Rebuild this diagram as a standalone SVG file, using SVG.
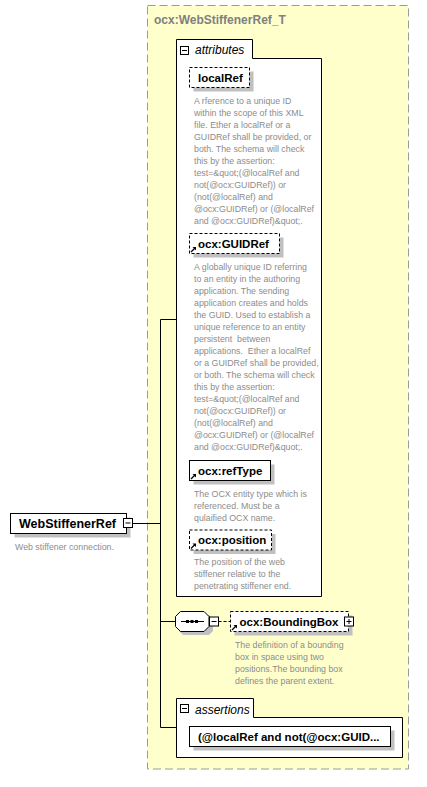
<svg xmlns="http://www.w3.org/2000/svg" width="427" height="787" viewBox="0 0 427 787">
<defs>
<style>
.lbl{font-family:"Liberation Sans",Arial,sans-serif;font-weight:bold;font-size:11.5px;fill:#000}
.desc{font-family:"Liberation Sans",Arial,sans-serif;font-size:8.8px;fill:#8c8c8c}
.ital{font-family:"Liberation Sans",Arial,sans-serif;font-style:italic;font-size:12px;fill:#000}
.shadow{fill:#c0c0c0}
.box{fill:#fff;stroke:#000;stroke-width:1}
.opt{fill:#fff;stroke:#000;stroke-width:1;stroke-dasharray:3,2}
.icon{fill:#fff;stroke:#000;stroke-width:1}
.conn{fill:none;stroke:#000;stroke-width:1}
</style>
<g id="refArrow">
<path d="M0.5,5.5 L4.5,1.5" stroke="#000" stroke-width="1.2" fill="none"/>
<path d="M2,0.5 L5.5,0.5 L5.5,4 Z" fill="#000"/>
</g>
</defs>

<g id="complexType">
<rect x="147.5" y="5.5" width="261" height="763.5" fill="#ffffcc" stroke="#9a9a9a" stroke-width="1" stroke-dasharray="8,4"/>
<text x="154" y="24" style="font-family:'Liberation Sans',Arial,sans-serif;font-weight:bold;font-size:12px;fill:#808080">ocx:WebStiffenerRef_T</text>
</g>

<g id="connectors">
<path class="conn" d="M132.5,523.5 H160.5"/>
<path class="conn" d="M160.5,319.5 V727.5"/>
<path class="conn" d="M160.5,319.5 H176"/>
<path class="conn" d="M160.5,621.5 H175"/>
<path class="conn" d="M160.5,727.5 H176"/>
<path class="conn" d="M218.5,621.5 H230" stroke-dasharray="3,2"/>
</g>

<g id="WebStiffenerRef">
<rect class="shadow" x="14.5" y="517.5" width="116" height="20"/>
<rect class="box" x="10.5" y="513.5" width="116" height="20"/>
<text x="19" y="528" class="lbl" style="font-size:12.5px">WebStiffenerRef</text>
<rect class="icon" x="123.5" y="518.5" width="9" height="9"/>
<path d="M125.5,523 H130.5" stroke="#000" stroke-width="1"/>
<text x="15" y="549.7" class="desc">Web stiffener connection.</text>
</g>

<g id="attributes">
<path d="M176.5,39.5 H252.5 V58.5 H321.5 V596.5 H176.5 Z" fill="#fff" stroke="#000" stroke-width="1"/>
<rect class="icon" x="180.5" y="46.5" width="8" height="8"/>
<path d="M182,50.5 H187" stroke="#000" stroke-width="1"/>
<text x="195" y="54" class="ital">attributes</text>
</g>

<g id="localRef">
<rect class="shadow" x="193.5" y="71.5" width="60" height="20"/>
<rect class="opt" x="189.5" y="67.5" width="60" height="20"/>
<text x="198" y="81.6" class="lbl">localRef</text>
<text class="desc"><tspan x="194" y="103.7">A rference to a unique ID</tspan><tspan x="194" dy="12">within the scope of this XML</tspan><tspan x="194" dy="12">file. Ether a localRef or a</tspan><tspan x="194" dy="12">GUIDRef shall be provided, or</tspan><tspan x="194" dy="12">both. The schema will check</tspan><tspan x="194" dy="12">this by the assertion:</tspan><tspan x="194" dy="12">test=&amp;quot;(@localRef and</tspan><tspan x="194" dy="12">not(@ocx:GUIDRef)) or</tspan><tspan x="194" dy="12">(not(@localRef) and</tspan><tspan x="194" dy="12">@ocx:GUIDRef) or (@localRef</tspan><tspan x="194" dy="12">and @ocx:GUIDRef)&amp;quot;.</tspan></text>
</g>

<g id="GUIDRef">
<rect class="shadow" x="193.5" y="237.5" width="90" height="20"/>
<rect class="opt" x="189.5" y="233.5" width="90" height="20"/>
<text x="198" y="247.6" class="lbl">ocx:GUIDRef</text>
<use href="#refArrow" x="190.5" y="246.5"/>
<text class="desc"><tspan x="194" y="269.7">A globally unique ID referring</tspan><tspan x="194" dy="12">to an entity in the authoring</tspan><tspan x="194" dy="12">application. The sending</tspan><tspan x="194" dy="12">application creates and holds</tspan><tspan x="194" dy="12">the GUID. Used to establish a</tspan><tspan x="194" dy="12">unique reference to an entity</tspan><tspan x="194" dy="12" xml:space="preserve">persistent  between</tspan><tspan x="194" dy="12" xml:space="preserve">applications.  Ether a localRef</tspan><tspan x="194" dy="12">or a GUIDRef shall be provided,</tspan><tspan x="194" dy="12">or both. The schema will check</tspan><tspan x="194" dy="12">this by the assertion:</tspan><tspan x="194" dy="12">test=&amp;quot;(@localRef and</tspan><tspan x="194" dy="12">not(@ocx:GUIDRef)) or</tspan><tspan x="194" dy="12">(not(@localRef) and</tspan><tspan x="194" dy="12">@ocx:GUIDRef) or (@localRef</tspan><tspan x="194" dy="12">and @ocx:GUIDRef)&amp;quot;.</tspan></text>
</g>

<g id="refType">
<rect class="shadow" x="193.5" y="464.5" width="81" height="20"/>
<rect class="box" x="189.5" y="460.5" width="81" height="20"/>
<text x="198" y="474.6" class="lbl">ocx:refType</text>
<use href="#refArrow" x="190.5" y="473.5"/>
<text class="desc"><tspan x="194" y="497">The OCX entity type which is</tspan><tspan x="194" dy="12">referenced. Must be a</tspan><tspan x="194" dy="12">qulaified OCX name.</tspan></text>
</g>

<g id="position">
<rect class="shadow" x="193.5" y="534" width="82" height="20"/>
<rect class="opt" x="189.5" y="530" width="82" height="20"/>
<text x="198" y="544.1" class="lbl">ocx:position</text>
<use href="#refArrow" x="190.5" y="543"/>
<text class="desc"><tspan x="194" y="565.3">The position of the web</tspan><tspan x="194" dy="12">stiffener relative to the</tspan><tspan x="194" dy="11.7">penetrating stiffener end.</tspan></text>
</g>

<g id="sequence">
<path class="shadow" d="M183,615 H209 L213,619 V631 L209,635 H183 L179,631 V619 Z"/>
<path class="box" d="M180.5,611.5 H204 L209,616.5 V626.5 L204,631.5 H180.5 L175.5,626.5 V616.5 Z"/>
<path d="M181,621.5 H204" stroke="#000" stroke-width="1"/>
<rect x="186" y="620" width="3" height="3" fill="#000"/>
<rect x="190.5" y="620" width="3" height="3" fill="#000"/>
<rect x="195" y="620" width="3" height="3" fill="#000"/>
<rect class="icon" x="209.5" y="617" width="9" height="9"/>
<path d="M211.5,621.5 H216.5" stroke="#000" stroke-width="1"/>
</g>

<g id="BoundingBox">
<rect class="shadow" x="234.5" y="615.5" width="118" height="20"/>
<rect class="opt" x="230.5" y="611.5" width="118" height="20"/>
<text x="239.5" y="625.6" class="lbl">ocx:BoundingBox</text>
<use href="#refArrow" x="231.5" y="624.5"/>
<rect class="icon" x="344.5" y="617" width="9" height="9"/>
<path d="M346.5,621.5 H351.5 M349,619 V624" stroke="#000" stroke-width="1"/>
<text class="desc"><tspan x="235" y="648">The definition of a bounding</tspan><tspan x="235" dy="12">box in space using two</tspan><tspan x="235" dy="12">positions.The bounding box</tspan><tspan x="235" dy="12">defines the parent extent.</tspan></text>
</g>

<g id="assertions">
<path d="M176.5,698.5 H253.5 V717.5 H402.5 V757.5 H176.5 Z" fill="#fff" stroke="#000" stroke-width="1"/>
<rect class="icon" x="180.5" y="704.5" width="8" height="8"/>
<path d="M182,708.5 H187" stroke="#000" stroke-width="1"/>
<text x="195" y="713.5" class="ital">assertions</text>
</g>

<g id="assertion1">
<rect class="shadow" x="193.5" y="730.5" width="201" height="20"/>
<rect class="box" x="189.5" y="726.5" width="201" height="20"/>
<text x="198" y="740.6" class="lbl">(@localRef and not(@ocx:GUID...</text>
</g>
</svg>
